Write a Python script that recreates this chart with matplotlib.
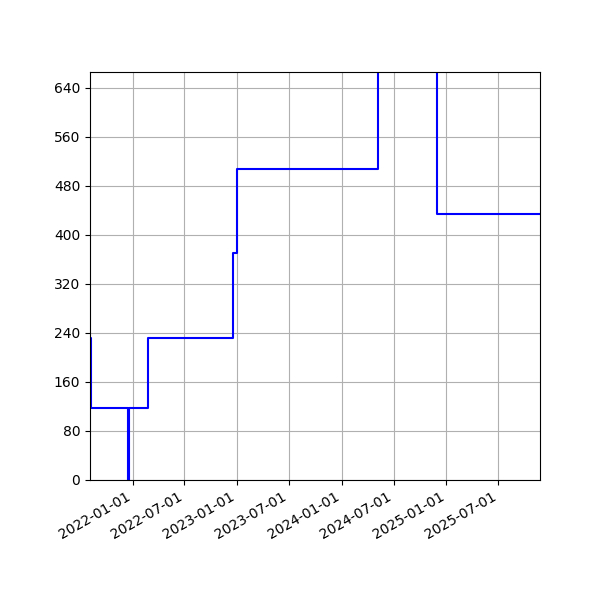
import matplotlib
matplotlib.use("Agg")
import matplotlib.pyplot as plt
import matplotlib.dates as mdates
import pandas as pd

# step data
dates = ["2021-08-01", "2021-08-09", "2021-12-17", "2021-12-19", "2022-02-22",
         "2022-12-18", "2022-12-30", "2024-05-07", "2024-11-28", "2025-12-31"]
values = [232, 118, 0, 118, 232, 370, 508, 720, 434, 434]

x_start = "2021-08-05"
x_end = "2025-11-24"
y_ticks = [0, 80, 160, 240, 320, 400, 480, 560, 640]


def plot_chart():
    fig = plt.figure(figsize=(6, 6), dpi=100)
    ax = plt.gca()

    ax.plot(pd.to_datetime(dates), values, drawstyle="steps-post", color="blue")

    ax.set_xlim(pd.Timestamp(x_start), pd.Timestamp(x_end))
    ax.set_ylim(0, 666)
    ax.set_yticks(y_ticks)

    ax.xaxis.set_major_locator(mdates.MonthLocator(bymonth=[1, 7]))
    ax.xaxis.set_major_formatter(mdates.DateFormatter("%Y-%m-%d"))

    ax.grid(True)
    fig.autofmt_xdate()
    fig.subplots_adjust(left=0.15, bottom=0.2, right=0.9, top=0.88)
    fig.savefig("out.png", dpi=100)


if __name__ == "__main__":
    plot_chart()
